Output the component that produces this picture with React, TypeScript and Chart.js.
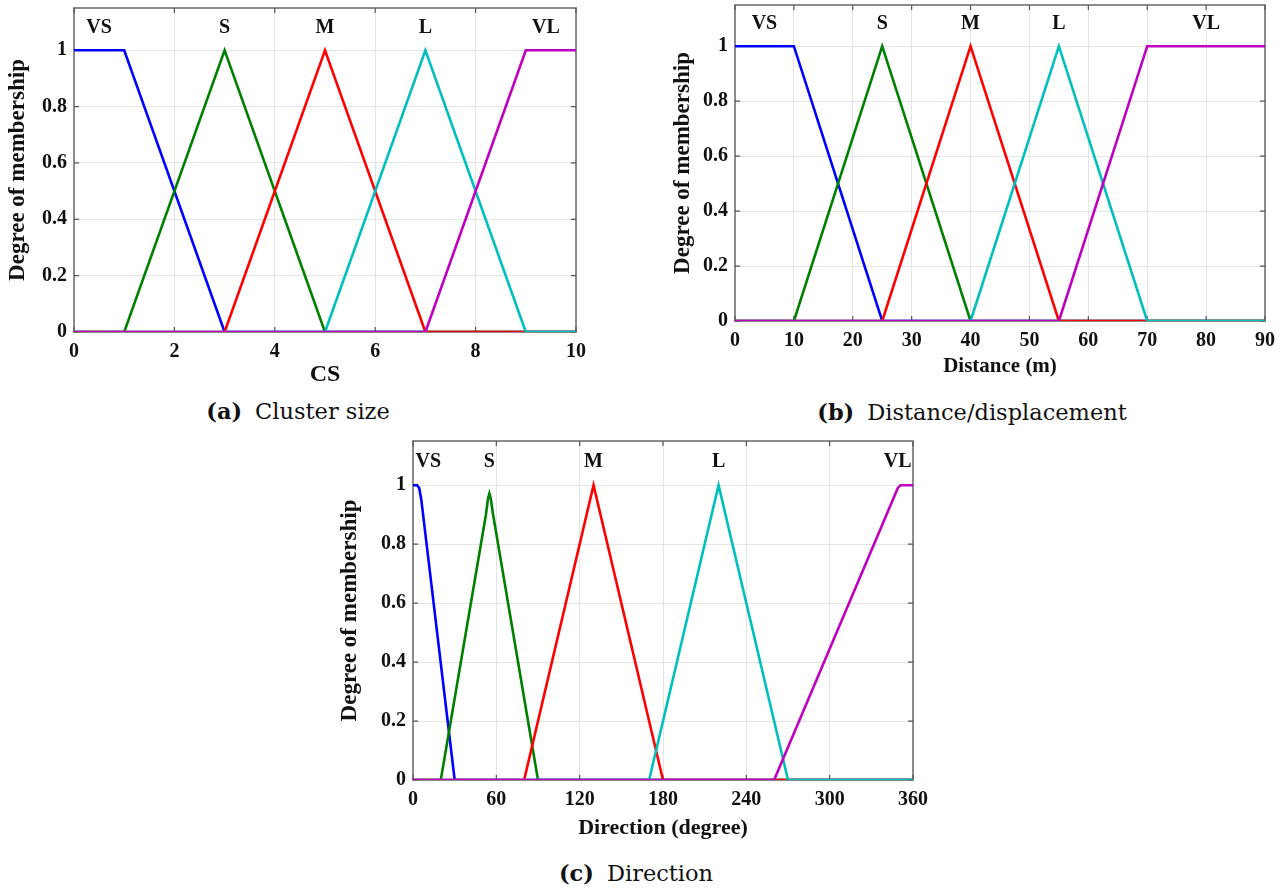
import React, { useEffect, useRef } from "react";
import { Chart, registerables } from "chart.js";

Chart.register(...registerables);

type Pt = [number, number];

// ---------- shared ----------
const termNames = ["VS", "S", "M", "L", "VL"];
const termColors = ["#0000ff", "#008000", "#ff0000", "#00bfbf", "#bf00bf"];
const yTicks = [0, 0.2, 0.4, 0.6, 0.8, 1];
const yMax = 1.15;
const termLabelY = 1.08;

// ---------- (a) Cluster size ----------
const csVS: Pt[] = [[0, 1], [1, 1], [3, 0], [10, 0]];
const csS: Pt[] = [[0, 0], [1, 0], [3, 1], [5, 0], [10, 0]];
const csM: Pt[] = [[0, 0], [3, 0], [5, 1], [7, 0], [10, 0]];
const csL: Pt[] = [[0, 0], [5, 0], [7, 1], [9, 0], [10, 0]];
const csVL: Pt[] = [[0, 0], [7, 0], [9, 1], [10, 1]];
const csXTicks = [0, 2, 4, 6, 8, 10];
const csLabelX = [0.5, 3, 5, 7, 9.4];

// ---------- (b) Distance ----------
const dsVS: Pt[] = [[0, 1], [10, 1], [25, 0], [90, 0]];
const dsS: Pt[] = [[0, 0], [10, 0], [25, 1], [40, 0], [90, 0]];
const dsM: Pt[] = [[0, 0], [25, 0], [40, 1], [55, 0], [90, 0]];
const dsL: Pt[] = [[0, 0], [40, 0], [55, 1], [70, 0], [90, 0]];
const dsVL: Pt[] = [[0, 0], [55, 0], [70, 1], [90, 1]];
const dsXTicks = [0, 10, 20, 30, 40, 50, 60, 70, 80, 90];
const dsLabelX = [5, 25, 40, 55, 80];

// ---------- (c) Direction ----------
const dirVS: Pt[] = [[0, 1], [3, 1], [4.5, 0.99], [6, 0.95], [30, 0], [360, 0]];
const dirS: Pt[] = [[0, 0], [20, 0], [52.5, 0.9], [54, 0.955], [55, 0.972], [56, 0.955], [57.5, 0.905], [90, 0], [360, 0]];
const dirM: Pt[] = [[0, 0], [80, 0], [130, 1], [180, 0], [360, 0]];
const dirL: Pt[] = [[0, 0], [170, 0], [220, 1], [270, 0], [360, 0]];
const dirVL: Pt[] = [[0, 0], [260, 0], [349, 0.99], [351, 1], [360, 1]];
const dirXTicks = [0, 60, 120, 180, 240, 300, 360];
const dirLabelX = [11, 55, 130, 220, 349];

const SERIF = '"Liberation Serif", "Times New Roman", serif';

type PanelCfg = {
  left: number;
  top: number;
  width: number;
  height: number;
  padTop: number;
  padRight: number;
  yWidth: number;
  xHeight: number;
  series: Pt[][];
  xTicks: number[];
  labelX: number[];
  xTitle: string;
  xTitleSize: number;
  xTitlePad: number;
  yTitlePad: number;
};

const frameLabelsPlugin = {
  id: "matlabFrame",
  beforeDatasetsDraw(chart: any) {
    const { ctx, chartArea } = chart;
    const { left, right, top, bottom } = chartArea;
    const xs = chart.scales.x;
    const ys = chart.scales.y;
    ctx.save();
    ctx.strokeStyle = "#808080";
    ctx.lineWidth = 1.8;
    ctx.strokeRect(left, top, right - left, bottom - top);
    ctx.lineWidth = 1.2;
    ctx.strokeStyle = "#555";
    const tl = 5;
    xs.ticks.forEach((t: any) => {
      const px = xs.getPixelForValue(t.value);
      ctx.beginPath();
      ctx.moveTo(px, bottom);
      ctx.lineTo(px, bottom - tl);
      ctx.moveTo(px, top);
      ctx.lineTo(px, top + tl);
      ctx.stroke();
    });
    ys.ticks.forEach((t: any) => {
      const py = ys.getPixelForValue(t.value);
      ctx.beginPath();
      ctx.moveTo(left, py);
      ctx.lineTo(left + tl, py);
      ctx.moveTo(right, py);
      ctx.lineTo(right - tl, py);
      ctx.stroke();
    });
    ctx.restore();
  },
  afterDraw(chart: any, _args: any, opts: any) {
    const { ctx } = chart;
    const xs = chart.scales.x;
    const ys = chart.scales.y;
    const lx: number[] = opts.labelX || [];
    ctx.save();
    ctx.fillStyle = "#111";
    ctx.font = `bold 20px ${SERIF}`;
    ctx.textAlign = "center";
    ctx.textBaseline = "middle";
    lx.forEach((x, i) => {
      ctx.fillText(termNames[i], xs.getPixelForValue(x), ys.getPixelForValue(termLabelY));
    });
    ctx.restore();
  },
};

function Panel({ cfg }: { cfg: PanelCfg }) {
  const ref = useRef<HTMLCanvasElement | null>(null);
  useEffect(() => {
    if (!ref.current) return;
    const datasets = cfg.series.map((pts, i) => ({
      label: termNames[i],
      data: pts.map(([x, y]) => ({ x, y })),
      showLine: true,
      borderColor: termColors[i],
      backgroundColor: termColors[i],
      borderWidth: 2.6,
      pointRadius: 0,
      fill: false,
      tension: 0,
      order: cfg.series.length - 1 - i,
    }));
    const chart = new Chart(ref.current, {
      type: "scatter",
      data: { datasets },
      plugins: [frameLabelsPlugin],
      options: {
        animation: false,
        responsive: false,
        devicePixelRatio: 1,
        layout: { padding: { top: cfg.padTop, right: cfg.padRight, left: 0, bottom: 0 } },
        plugins: {
          legend: { display: false },
          tooltip: { enabled: false },
          matlabFrame: { labelX: cfg.labelX },
        } as any,
        scales: {
          x: {
            type: "linear",
            min: cfg.xTicks[0],
            max: cfg.xTicks[cfg.xTicks.length - 1],
            afterBuildTicks: (s: any) => {
              s.ticks = cfg.xTicks.map((v) => ({ value: v }));
            },
            afterFit: (s: any) => {
              s.height = cfg.xHeight;
              s.paddingLeft = 0;
              s.paddingRight = 0;
            },
            border: { display: false },
            grid: { color: "#e4e4e4", lineWidth: 1, drawTicks: false },
            ticks: {
              padding: 8,
              color: "#111",
              font: { family: SERIF, size: 20, weight: "bold" },
              callback: (v: any) => String(v),
              maxRotation: 0,
            },
            title: {
              display: true,
              text: cfg.xTitle,
              color: "#111",
              font: { family: SERIF, size: cfg.xTitleSize, weight: "bold", lineHeight: 1.2 },
              padding: { top: 0, bottom: cfg.xTitlePad },
            },
          },
          y: {
            type: "linear",
            min: 0,
            max: yMax,
            afterBuildTicks: (s: any) => {
              s.ticks = yTicks.map((v) => ({ value: v }));
            },
            afterFit: (s: any) => {
              s.width = cfg.yWidth;
              s.paddingTop = 0;
              s.paddingBottom = 0;
            },
            border: { display: false },
            grid: { color: "#e4e4e4", lineWidth: 1, drawTicks: false },
            ticks: {
              padding: 7,
              color: "#111",
              font: { family: SERIF, size: 20, weight: "bold" },
              callback: (v: any) => String(+Number(v).toFixed(2)),
            },
            title: {
              display: true,
              text: "Degree of membership",
              color: "#111",
              font: { family: SERIF, size: 23, weight: "bold", lineHeight: 1.2 },
              padding: { top: cfg.yTitlePad, bottom: 0 },
            },
          },
        },
      },
    });
    return () => chart.destroy();
  }, [cfg]);
  return (
    <canvas
      ref={ref}
      width={cfg.width}
      height={cfg.height}
      style={{ position: "absolute", left: cfg.left, top: cfg.top, width: cfg.width, height: cfg.height }}
    />
  );
}

const panelA: PanelCfg = {
  left: 0, top: 0, width: 600, height: 395, padTop: 8, padRight: 24, yWidth: 74, xHeight: 63,
  series: [csVS, csS, csM, csL, csVL], xTicks: csXTicks, labelX: csLabelX,
  xTitle: "CS", xTitleSize: 24, xTitlePad: 5.6, yTitlePad: 4.2,
};
const panelB: PanelCfg = {
  left: 660, top: 0, width: 628, height: 385, padTop: 5, padRight: 23, yWidth: 75, xHeight: 64,
  series: [dsVS, dsS, dsM, dsL, dsVL], xTicks: dsXTicks, labelX: dsLabelX,
  xTitle: "Distance (m)", xTitleSize: 21, xTitlePad: 5.4, yTitlePad: 9.2,
};
const panelC: PanelCfg = {
  left: 330, top: 430, width: 600, height: 415, padTop: 11, padRight: 17, yWidth: 83, xHeight: 65,
  series: [dirVS, dirS, dirM, dirL, dirVL], xTicks: dirXTicks, labelX: dirLabelX,
  xTitle: "Direction (degree)", xTitleSize: 22, xTitlePad: 3.8, yTitlePad: 6.2,
};

function Caption({ tag, text, cx, cy }: { tag: string; text: string; cx: number; cy: number }) {
  return (
    <div
      style={{
        position: "absolute",
        left: cx,
        top: cy,
        transform: "translate(-50%, -50%)",
        whiteSpace: "nowrap",
        fontFamily: '"DejaVu Serif", serif',
        fontSize: 22.5,
        lineHeight: "28px",
        color: "#111",
      }}
    >
      <span style={{ fontWeight: "bold", marginRight: 13 }}>{tag}</span>
      <span>{text}</span>
    </div>
  );
}

export default function App() {
  return (
    <div style={{ position: "absolute", left: 0, top: 0, width: 1288, height: 892, background: "#fff", overflow: "hidden" }}>
      <Panel cfg={panelA} />
      <Panel cfg={panelB} />
      <Panel cfg={panelC} />
      <Caption tag="(a)" text="Cluster size" cx={298} cy={411} />
      <Caption tag="(b)" text="Distance/displacement" cx={972} cy={412} />
      <Caption tag="(c)" text="Direction" cx={636} cy={873} />
    </div>
  );
}
